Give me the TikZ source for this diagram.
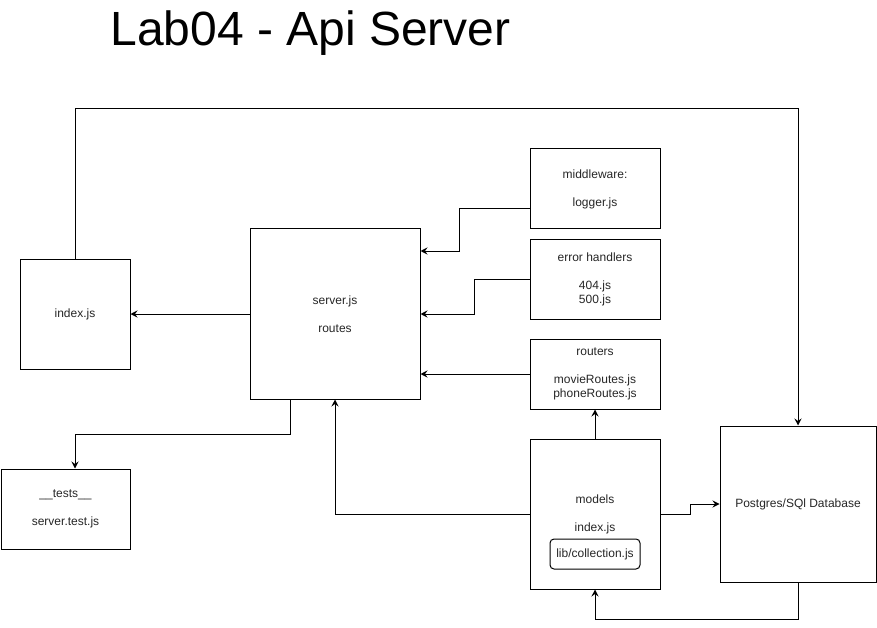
\documentclass[tikz,border=0pt]{standalone}
\usepackage{fontspec}
\setmainfont{Liberation Sans}
\usetikzlibrary{arrows.meta}
\begin{document}
\begin{tikzpicture}[x=1pt,y=-1pt,line width=1pt,
  box/.style={draw=black,inner sep=0pt,align=center,font=\fontsize{12}{14}\selectfont,text=black!85},
  conn/.style={-{Stealth[length=7pt,width=7pt,inset=2.5pt]}}]
\useasboundingbox (0,0) rectangle (877,628);
\node[anchor=base west,font=\fontsize{48}{50}\selectfont,inner sep=0pt] (title) at (110,46) {Lab04 - Api Server};
\node[box,minimum width=110,minimum height=110] (idx) at (75,314) {index.js};
\node[box,minimum width=170,minimum height=170] (srv) at (335,314) {server.js\\[14pt]routes};
\node[box,minimum width=129,minimum height=80] (tests) at (65.5,509) {\_\_tests\_\_\\[14pt]server.test.js};
\node[box,minimum width=130,minimum height=80] (mw) at (595,189) {middleware:\\[14pt]logger.js};
\node[box,minimum width=130,minimum height=80] (eh) at (595,279) {error handlers\\[14pt]404.js\\500.js};
\node[box,minimum width=130,minimum height=70] (rt) at (595,374) {routers\\[14pt]movieRoutes.js\\phoneRoutes.js};
\node[box,minimum width=130,minimum height=150] (md) at (595,514) {models\\[14pt]index.js};
\node[box,rounded corners=4pt,minimum width=90,minimum height=30] (lib) at (595,554) {lib/collection.js};
\node[box,minimum width=156,minimum height=156] (db) at (798,504) {Postgres/SQl Database};
\draw[conn] (idx.north) -- ++(0,-150) -| (db.north);
\draw[conn] (srv.west) -- (idx.east);
\draw[conn] ([xshift=-45pt]srv.south) -- ++(0,35) -| ([xshift=9.5pt]tests.north);
\draw[conn] ([yshift=-20pt]mw.west) -- ++(-70,0) |- ([yshift=63pt]srv.east);
\draw[conn] (eh.west) -- ++(-55,0) |- (srv.east);
\draw[conn] (rt.west) -- (srv.east |- rt.west);
\draw[conn] (md.north) -- (rt.south);
\draw[conn] (md.west) -| (srv.south);
\draw[conn] (md.east) -- ++(30,0) |- (db.west);
\draw[conn] (db.south) -- ++(0,37) -| (md.south);
\end{tikzpicture}
\end{document}
